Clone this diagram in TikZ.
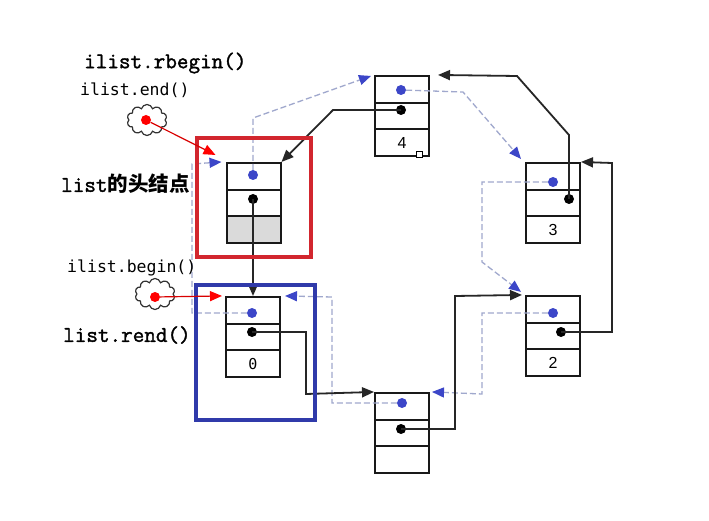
\documentclass[tikz,border=0pt]{standalone}
\usepackage{fontspec}
\usetikzlibrary{arrows.meta,shapes.symbols}
\newfontfamily\btt[FakeBold=1.6]{Latin Modern Mono}
\newfontfamily\dmono{DejaVu Sans Mono}
\newfontfamily\cjkf{Noto Sans CJK SC}
\newfontfamily\lsans{Liberation Sans}
\definecolor{framered}{RGB}{210,38,46}
\definecolor{frameblue}{RGB}{48,58,170}
\definecolor{dotblue}{RGB}{60,70,200}
\definecolor{dashgray}{RGB}{160,168,205}
\definecolor{cellgray}{RGB}{218,218,218}
\tikzset{
 cell/.style={draw=black!90,line width=2pt,minimum width=54pt,minimum height=26.7pt,inner sep=0pt,fill=white},
 pdot/.style={circle,fill=dotblue,minimum size=10pt,inner sep=0pt},
 ndot/.style={circle,fill=black,minimum size=10pt,inner sep=0pt},
 nextptr/.style={draw=black!85,line width=1.8pt,-{Triangle[length=12pt,width=10pt]}},
 prevptr/.style={draw=dashgray,line width=1.3pt,dash pattern=on 6pt off 3pt,-{Triangle[length=12pt,width=10pt,color=dotblue]}},
 iterptr/.style={draw=red!85!black,line width=1.2pt,-{Triangle[length=12pt,width=10pt,color=red]}},
 boxframe/.style={line width=3.8pt},
 cloudsh/.style={cloud,cloud puffs=10,draw=black!80,line width=1.2pt,minimum width=40pt,minimum height=31pt,inner sep=0pt},
 rdot/.style={circle,fill=red,minimum size=10pt,inner sep=0pt},
 boldlbl/.style={font=\btt\fontsize{22.5}{22.5}\selectfont,anchor=west,inner sep=0pt},
 lightlbl/.style={font=\dmono\fontsize{16.5}{16.5}\selectfont,anchor=west,inner sep=0pt},
 val/.style={font=\lsans\fontsize{16}{16}\selectfont},
 zval/.style={font=\dmono\fontsize{15}{15}\selectfont},
}
\begin{document}
\begin{tikzpicture}[x=1pt,y=-1pt]
\useasboundingbox[fill=white] (0,0) rectangle (709,521);

% head node
\node[cell] (ha) at (253.5,176.3) {};
\node[cell] (hb) at (253.5,203) {};
\node[cell,fill=cellgray] (hc) at (253.5,229.7) {};
% node 0
\node[cell] (za) at (253,310.3) {};
\node[cell] (zb) at (253,337) {};
\node[cell,zval] (zc) at (253,363.7) {0};
% node 4
\node[cell] (fa) at (402,89.3) {};
\node[cell] (fb) at (402,116) {};
\node[cell,val] (fc) at (402,142.7) {4};
% node 3
\node[cell] (ta) at (553,176.3) {};
\node[cell] (tb) at (553,203) {};
\node[cell,val] (tc) at (553,229.7) {3};
% node 2
\node[cell] (wa) at (553,309.3) {};
\node[cell] (wb) at (553,336) {};
\node[cell,val] (wc) at (553,362.7) {2};
% bottom node
\node[cell] (ba) at (402,406.3) {};
\node[cell] (bb) at (402,433) {};
\node[cell] (bc) at (402,459.7) {};

% dots
\node[pdot] (hp) at (253,175) {};
\node[ndot] (hn) at (253,199) {};
\node[pdot] (zp) at (252,313) {};
\node[ndot] (zn) at (252,332) {};
\node[pdot] (fp) at (401,90) {};
\node[ndot] (fn) at (401,110) {};
\node[pdot] (tp) at (553,182) {};
\node[ndot] (tn) at (569,199) {};
\node[pdot] (wp) at (553,313) {};
\node[ndot] (wn) at (561,332) {};
\node[pdot] (bp) at (402,403) {};
\node[ndot] (bn) at (401,429) {};

% prev pointers (dashed)
\draw[prevptr] (hp) -- (253,118) -- ([shift={(-3,1)}]fa.north west);
\draw[prevptr] (fp) -- (463,92) -- ([shift={(-4,-3)}]ta.north west);
\draw[prevptr] (tp) -- (482,182) -- (482,262) -- ([shift={(-4,-3)}]wa.north west);
\draw[prevptr] (wp) -- (482,313) -- (482,394) -- ([xshift=2pt]ba.north east);
\draw[prevptr] (bp) -- (332,403) -- (332,297) -- ([xshift=4pt]za.north east);
\draw[prevptr] (zp) -- (192,313) -- (192,164) -- ([xshift=-4pt]ha.north west);

% next pointers
\draw[nextptr] (hn.center) -- (za.north);
\draw[nextptr] (zn.center) -- (306,332) -- (306,394) -- (ba.north west);
\draw[nextptr] (bn.center) -- (455,429) -- (455,296) -- ([xshift=-3pt]wa.north west);
\draw[nextptr] (wn.center) -- (612,332) -- (612,163) -- (ta.north east);
\draw[nextptr] (tn.center) -- (569,135) -- (517,76) -- ([xshift=8pt]fa.north east);
\draw[nextptr] (fn.center) -- (333,110) -- (ha.north east);

% frames
\draw[boxframe,framered] (197,138) rectangle (311,257);
\draw[boxframe,frameblue] (196,285) rectangle (315,420);

% iterators
\node[cloudsh] (c1) at (147,120) {};
\node[rdot] (r1) at (146,120) {};
\draw[iterptr] (r1) -- ([shift={(-10,-7)}]ha.north west);
\node[cloudsh] (c2) at (155,294) {};
\node[rdot] (r2) at (155,297) {};
\draw[iterptr] (r2) -- ([shift={(-3,0)}]za.north west);

% small handle square
\node[draw=black,fill=white,line width=0.8pt,minimum size=6pt,inner sep=0pt] (sq) at (419,154) {};

% labels
\node[boldlbl] (l1) at (84,63) {ilist.rbegin()};
\node[lightlbl] (l2) at (80,90) {ilist.end()};
\node[boldlbl] (l3) at (61,184) {list{\cjkf\bfseries\fontsize{20.5}{20.5}\selectfont 的头结点}};
\node[lightlbl] (l4) at (67,268) {ilist.begin()};
\node[boldlbl] (l5) at (63,335) {list.rend()};
\end{tikzpicture}
\end{document}
